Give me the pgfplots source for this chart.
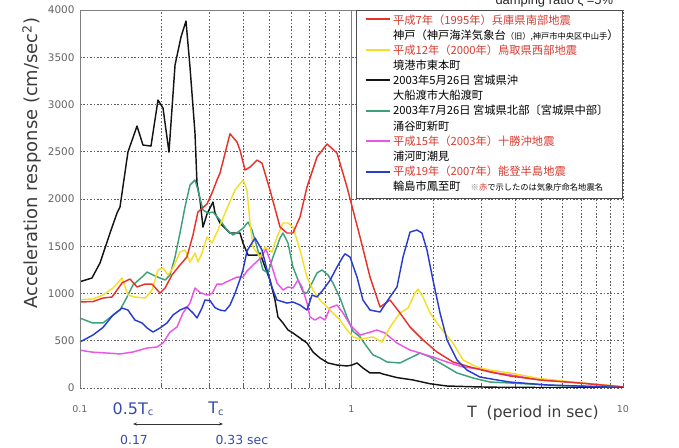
\documentclass[border=0pt]{standalone}
\usepackage{fontspec}
\setmainfont{Liberation Sans}
\newfontfamily\jp{Noto Sans CJK JP}
\newfontfamily\dv{DejaVu Sans}
\usepackage{pgfplots}
\pgfplotsset{compat=1.18}
\usetikzlibrary{arrows.meta}
\definecolor{cred}{RGB}{230,50,40}
\definecolor{cyel}{RGB}{245,222,40}
\definecolor{cblk}{RGB}{20,20,20}
\definecolor{cgrn}{RGB}{60,160,120}
\definecolor{cmag}{RGB}{235,85,230}
\definecolor{cblu}{RGB}{40,60,210}
\definecolor{ltxt}{RGB}{215,60,50}
\definecolor{gridc}{RGB}{95,95,95}
\definecolor{ticktxt}{RGB}{100,100,100}
\definecolor{anblue}{RGB}{55,75,170}
\begin{document}
\begin{tikzpicture}
\path[use as bounding box] (-80bp,-60bp) rectangle (599bp,388bp);
\begin{axis}[
  at={(0,0)}, anchor=south west,
  scale only axis, width=543bp, height=378bp,
  xmode=log, xmin=0.1, xmax=10, ymin=0, ymax=4000,
  xtick={0.1,1,10}, xticklabels={0.1,1,10},
  minor xtick={0.2,0.3,0.4,0.5,0.6,0.7,0.8,0.9,2,3,4,5,6,7,8,9},
  ytick={0,500,1000,1500,2000,2500,3000,3500,4000},
  scaled y ticks=false,
  /pgf/number format/1000 sep={},
  /pgf/number format/assume math mode=true,
  grid=both,
  major grid style={draw=gridc, dash pattern=on 1.6bp off 1.8bp, line width=0.6bp},
  minor grid style={draw=gridc, dash pattern=on 1.6bp off 1.8bp, line width=0.6bp},
  axis line style={draw=none},
  tick align=inside, xtick pos=bottom, ytick style={draw=none},
  xtick style={draw=gridc, line width=0.6bp},
  major tick length=3bp, minor tick length=3bp,
  extra x ticks={1}, extra x tick labels={},
  extra x tick style={grid=major, major grid style={solid, draw=gray, line width=0.8bp}},
  xticklabel style={font=\dv\fontsize{9.5}{11}\selectfont, text=ticktxt, yshift=-14bp},
  yticklabel style={font=\dv\fontsize{10.5}{12}\selectfont, text=ticktxt, xshift=-2bp},
  every axis plot/.append style={line width=1.45bp, line join=round},
]
% black: 2003-05-26 Miyagi-oki, Ofunato
\addplot[cblk] coordinates {
(0.1000,1125)(0.1107,1164)(0.1185,1323)(0.1290,1640)(0.1369,1852)(0.1404,1915)
(0.1502,2497)(0.1622,2772)(0.1706,2571)(0.1826,2560)(0.1938,3047)(0.2022,2962)
(0.2127,2497)(0.2239,3417)(0.2355,3714)(0.2457,3883)(0.2542,3396)(0.2652,2698)
(0.2697,2169)(0.2767,1989)(0.2838,1703)(0.2936,1840)(0.3090,1968)(0.3143,1852)
(0.3279,1746)(0.3569,1640)(0.3787,1640)(0.3885,1640)(0.3985,1534)(0.4158,1407)
(0.4487,1407)(0.4603,1428)(0.4802,1280)(0.5009,1143)(0.5226,931)(0.5361,751)
(0.5593,688)(0.5836,614)(0.6087,582)(0.6461,529)(0.6856,476)(0.7215,381)
(0.7656,317)(0.8193,265)(0.8843,243)(0.9626,233)(1.004,243)(1.048,265)
(1.102,212)(1.170,159)(1.274,159)(1.306,148)(1.471,110)(1.685,85)(1.946,45)
(2.248,21)(2.974,11)(3.836,6)(10,4)};

% green: 2003-07-26 northern Miyagi, Wakuya
\addplot[cgrn] coordinates {
(0.1000,740)(0.1107,690)(0.1215,688)(0.1323,770)(0.1404,825)(0.1490,963)
(0.1567,1090)(0.1692,1174)(0.1766,1227)(0.1858,1196)(0.1971,1164)(0.2058,1143)
(0.2145,1196)(0.2239,1386)(0.2335,1640)(0.2436,1915)(0.2542,2148)(0.2652,2201)
(0.2720,2095)(0.2838,1883)(0.2961,1852)(0.3090,1862)(0.3279,1777)(0.3479,1672)
(0.3661,1619)(0.3819,1650)(0.3985,1690)(0.4158,1756)(0.4300,1672)(0.4487,1492)
(0.4721,1249)(0.4924,1217)(0.5139,1386)(0.5455,1587)(0.5593,1640)(0.5836,1534)
(0.6087,1280)(0.6353,1143)(0.6630,1016)(0.6856,1005)(0.7153,1111)(0.7463,1217)
(0.7786,1249)(0.8193,1196)(0.8546,1111)(0.9075,952)(0.9626,751)(1.013,600)
(1.075,540)(1.141,434)(1.200,350)(1.274,317)(1.351,275)(1.509,265)(1.643,317)
(1.789,370)(1.946,328)(2.119,265)(2.447,159)(2.803,106)(3.239,63)(3.836,53)
(5.87,25)(10,10)};

% magenta: 2003 Tokachi-oki, Urakawa
\addplot[cmag] coordinates {
(0.1000,400)(0.1107,380)(0.1257,370)(0.1404,360)(0.1567,381)(0.1766,423)
(0.1921,434)(0.2022,476)(0.2145,592)(0.2277,645)(0.2395,794)(0.2542,899)
(0.2652,1058)(0.2767,1010)(0.2936,984)(0.3064,1000)(0.3196,1100)(0.3334,1100)
(0.3569,1140)(0.3787,1174)(0.3985,1174)(0.4122,1238)(0.4337,1300)(0.4603,1370)
(0.4840,1470)(0.5009,1354)(0.5315,1111)(0.5593,1037)(0.5836,1069)(0.6087,1058)
(0.6353,1143)(0.6574,1069)(0.6856,899)(0.7034,751)(0.7338,719)(0.7656,751)
(0.7988,719)(0.8337,850)(0.8843,878)(0.9305,794)(0.9874,670)(1.075,560)
(1.102,570)(1.170,590)(1.241,614)(1.328,582)(1.471,476)(1.643,402)(1.789,370)
(1.996,328)(2.248,275)(2.575,222)(2.974,201)(3.435,159)(3.836,140)(4.95,85)
(6.95,53)(10,11)};

% yellow: 2000 Tottori-ken Seibu, Sakaiminato
\addplot[cyel] coordinates {
(0.1000,935)(0.1117,942)(0.1215,984)(0.1323,1058)(0.1428,1164)(0.1502,984)
(0.1594,963)(0.1737,952)(0.1842,1037)(0.1938,1249)(0.2022,1270)(0.2110,1196)
(0.2200,1270)(0.2335,1439)(0.2436,1460)(0.2542,1333)(0.2652,1428)(0.2718,1333)
(0.2814,1428)(0.2936,1598)(0.3064,1534)(0.3224,1672)(0.3479,1900)(0.3723,2095)
(0.3985,2201)(0.4122,2095)(0.4229,1746)(0.4337,1492)(0.4603,1386)(0.4802,1492)
(0.5095,1439)(0.5315,1598)(0.5593,1746)(0.5836,1746)(0.6087,1703)(0.6461,1460)
(0.6856,1174)(0.7215,1037)(0.7656,931)(0.8124,857)(0.8546,794)(0.9075,719)
(0.9626,614)(1.013,540)(1.075,518)(1.141,529)(1.200,540)(1.295,487)(1.387,645)
(1.509,794)(1.615,846)(1.713,1005)(1.757,1047)(1.834,963)(1.946,794)(2.119,645)
(2.365,476)(2.575,296)(2.899,222)(3.239,190)(3.836,159)(4.95,100)(6.95,55)(10,15)};

% red: 1995 Hyogo-ken Nanbu, Kobe
\addplot[cred] coordinates {
(0.1000,910)(0.1117,915)(0.1215,952)(0.1312,963)(0.1428,1111)(0.1528,1153)
(0.1622,1069)(0.1737,1100)(0.1842,1100)(0.1971,1005)(0.2058,1058)(0.2181,1196)
(0.2335,1301)(0.2476,1386)(0.2607,1619)(0.2718,1862)(0.2936,1947)(0.3064,2063)
(0.3196,2201)(0.3279,2275)(0.3569,2690)(0.3787,2603)(0.3885,2518)(0.4054,2306)
(0.4229,2338)(0.4487,2412)(0.4681,2380)(0.5009,2095)(0.5455,1703)(0.5786,1640)
(0.6087,1640)(0.6461,1809)(0.6856,2127)(0.7463,2444)(0.8124,2582)(0.8843,2486)
(0.9626,2127)(1.075,1598)(1.170,1174)(1.274,857)(1.387,931)(1.509,794)(1.643,645)
(1.834,508)(2.065,381)(2.365,275)(2.734,222)(3.239,169)(3.836,127)(4.95,85)
(6.95,53)(10,11)};

% blue: 2007 Noto Hanto, Wajima
\addplot[cblu] coordinates {
(0.1000,487)(0.1117,561)(0.1215,640)(0.1323,772)(0.1428,846)(0.1502,825)
(0.1594,719)(0.1692,688)(0.1766,635)(0.1858,592)(0.1971,635)(0.2092,688)
(0.2200,772)(0.2335,825)(0.2476,857)(0.2607,794)(0.2697,741)(0.2814,846)
(0.2886,931)(0.3012,925)(0.3143,850)(0.3279,825)(0.3421,815)(0.3569,878)
(0.3723,1000)(0.3885,1150)(0.3985,1250)(0.4122,1450)(0.4413,1587)(0.4681,1460)
(0.4885,1249)(0.5095,1065)(0.5315,931)(0.5786,899)(0.6087,910)(0.6461,878)
(0.6856,825)(0.7153,984)(0.7463,963)(0.7852,1037)(0.8337,1140)(0.8843,1280)
(0.9305,1390)(0.9465,1420)(0.9874,1386)(1.048,1174)(1.102,931)(1.170,825)
(1.274,804)(1.362,931)(1.471,1069)(1.548,1386)(1.643,1650)(1.743,1672)
(1.818,1640)(1.897,1460)(1.996,1143)(2.119,794)(2.248,508)(2.447,296)
(2.663,190)(2.974,116)(3.435,85)(3.836,63)(5.25,32)(10,5)};
\end{axis}
% frame: left and top solid
\draw[gray, line width=0.9bp] (0,0) -- (0,378bp) -- (543bp,378bp);
% legend
\node[anchor=north east, draw=gray!60!black, line width=0.9bp, fill=white,
  inner xsep=0bp, inner ysep=3bp, font=\jp\fontsize{11.3}{15.2}\selectfont]
  (leg) at (543bp,378bp) {%
\begin{tabular}{@{\hspace{37bp}}l@{\hspace{4bp}}}
\makebox[219bp][l]{\color{ltxt}平成7年（1995年）兵庫県南部地震}\\
神戸（神戸海洋気象台{\fontsize{8.3}{10}\selectfont （旧）,神戸市中央区中山手}）\\
{\color{ltxt}平成12年（2000年）鳥取県西部地震}\\
境港市東本町\\
2003年5月26日 宮城県沖\\
大船渡市大船渡町\\
2003年7月26日 宮城県北部〔宮城県中部〕\\
涌谷町新町\\
{\color{ltxt}平成15年（2003年）十勝沖地震}\\
浦河町潮見\\
{\color{ltxt}平成19年（2007年）能登半島地震}\\
輪島市鳳至町\hspace{10bp}{\fontsize{8.3}{10}\selectfont{\color{gray}※}{\color{ltxt}赤}で示したのは気象庁命名地震名}\\
\end{tabular}};
\draw[cred, line width=2bp] ([shift={(10bp,-9.5bp)}]leg.north west) -- ++(24bp,0);
\draw[cyel, line width=2bp] ([shift={(10bp,-40bp)}]leg.north west) -- ++(24bp,0);
\draw[cblk, line width=2bp] ([shift={(10bp,-70.5bp)}]leg.north west) -- ++(24bp,0);
\draw[cgrn, line width=2bp] ([shift={(10bp,-101bp)}]leg.north west) -- ++(24bp,0);
\draw[cmag, line width=2bp] ([shift={(10bp,-131.5bp)}]leg.north west) -- ++(24bp,0);
\draw[cblu, line width=2bp] ([shift={(10bp,-162bp)}]leg.north west) -- ++(24bp,0);
% axis labels
\node[rotate=90, font=\dv\fontsize{18}{20}\selectfont, text={rgb,255:red,60;green,60;blue,60}]
  at (-48bp,225bp) {Acceleration response (cm/sec\textsuperscript{2})};
\node[font=\dv\fontsize{15.6}{18}\selectfont, text={rgb,255:red,60;green,60;blue,60}]
  at (453bp,-25bp) {T\ \ (period in sec)};
% Tc annotations
\node[font=\dv\fontsize{16}{18}\selectfont, text=anblue] at (53bp,-21bp)
  {0.5T\raisebox{-0.1em}{\fontsize{10}{10}\selectfont c}};
\node[font=\dv\fontsize{16}{18}\selectfont, text=anblue] at (136bp,-21bp)
  {T\raisebox{-0.1em}{\fontsize{10}{10}\selectfont c}};
\draw[{Stealth[length=4bp,width=3bp]}-{Stealth[length=4bp,width=3bp]}, line width=0.7bp, black!80]
  (53bp,-36bp) -- (143bp,-36bp);
\node[font=\dv\fontsize{12.5}{14}\selectfont, text=anblue] at (54bp,-52bp) {0.17};
\node[font=\dv\fontsize{12.5}{14}\selectfont, text=anblue, anchor=west] at (132bp,-52bp) {0.33 sec};
% top note (cut off at page edge as in the source)
\node[font=\fontsize{13}{15}\selectfont, anchor=base west, text=black!85] at (412bp,383.5bp)
  {damping ratio ζ =5\%};
\end{tikzpicture}
\end{document}
